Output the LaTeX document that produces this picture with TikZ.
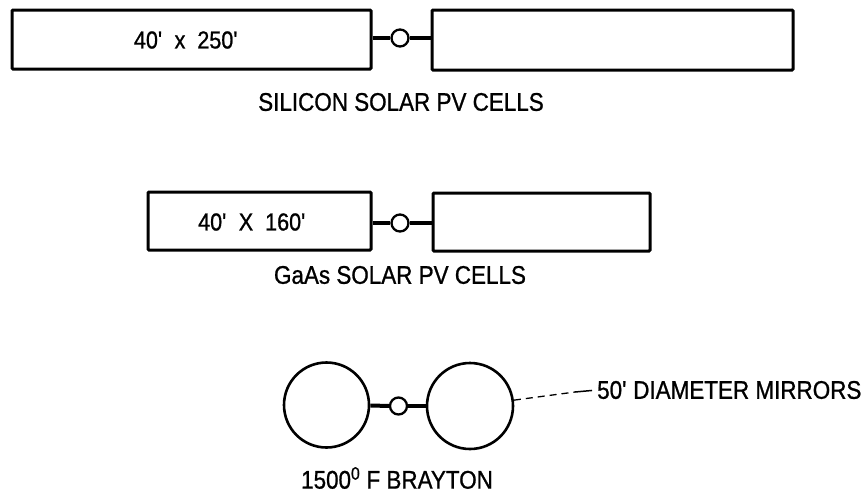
\documentclass[tikz,border=0pt]{standalone}
\usepackage{fontspec}
\setmainfont{Liberation Sans}[FakeStretch=0.88,FakeBold=0.9]
\begin{document}
\begin{tikzpicture}[x=1pt,y=-1pt,
  panel/.style={draw,line width=3pt,inner sep=0pt,rounded corners=1pt},
  mirror/.style={draw,circle,line width=2.6pt,inner sep=0pt},
  joint/.style={draw,circle,line width=2.3pt,inner sep=0pt,minimum size=17pt,fill=white},
  conn/.style={line width=4pt},
  lbl/.style={font=\fontsize{25.5}{30}\selectfont,inner sep=0pt},
  boxtxt/.style={font=\fontsize{24.5}{29}\selectfont,inner sep=0pt}]
\useasboundingbox (0,0) rectangle (862,499);
% Silicon
\node[panel,minimum width=359pt,minimum height=59pt] (boxA) at (191.5,39.5) {};
\node[panel,minimum width=361pt,minimum height=60pt] (boxB) at (612.5,40) {};
\node[joint] (jA) at (400,38) {};
\draw[conn] (boxA.east |- jA) -- (jA);
\draw[conn] (jA) -- (boxB.west |- jA);
\node[boxtxt] (tA) at (186,40) {40\textquotesingle\ \ x\ \ 250\textquotesingle};
\node[lbl] (lA) at (401,102) {SILICON SOLAR PV CELLS};
% GaAs
\node[panel,minimum width=223pt,minimum height=58pt] (boxC) at (259.5,221) {};
\node[panel,minimum width=217pt,minimum height=58pt] (boxD) at (541.5,222) {};
\node[joint] (jC) at (400,223) {};
\draw[conn] (boxC.east |- jC) -- (jC);
\draw[conn] (jC) -- (boxD.west |- jC);
\node[boxtxt] (tC) at (252,222) {40\textquotesingle\ \ X\ \ 160\textquotesingle};
\node[lbl] (lC) at (400,275) {GaAs SOLAR PV CELLS};
% Brayton
\node[mirror,minimum size=85pt] (mL) at (326.5,405) {};
\node[mirror,minimum size=86pt] (mR) at (470,406) {};
\node[joint] (jM) at (398.5,406) {};
\draw[conn] (mL) -- (jM);
\draw[conn] (jM) -- (mR);
\node[lbl,anchor=west] (lM) at (597,390) {50\textquotesingle\ DIAMETER MIRRORS};
\coordinate (lk) at (575,392);
\draw[line width=1.3pt,dash pattern=on 7pt off 5pt] (mR) -- (lk);
\draw[line width=1.5pt,shorten >=5pt] (lk) -- (lM.west);
\node[lbl] (lB) at (397,478) {1500\textsuperscript{0} F BRAYTON};
\end{tikzpicture}
\end{document}
